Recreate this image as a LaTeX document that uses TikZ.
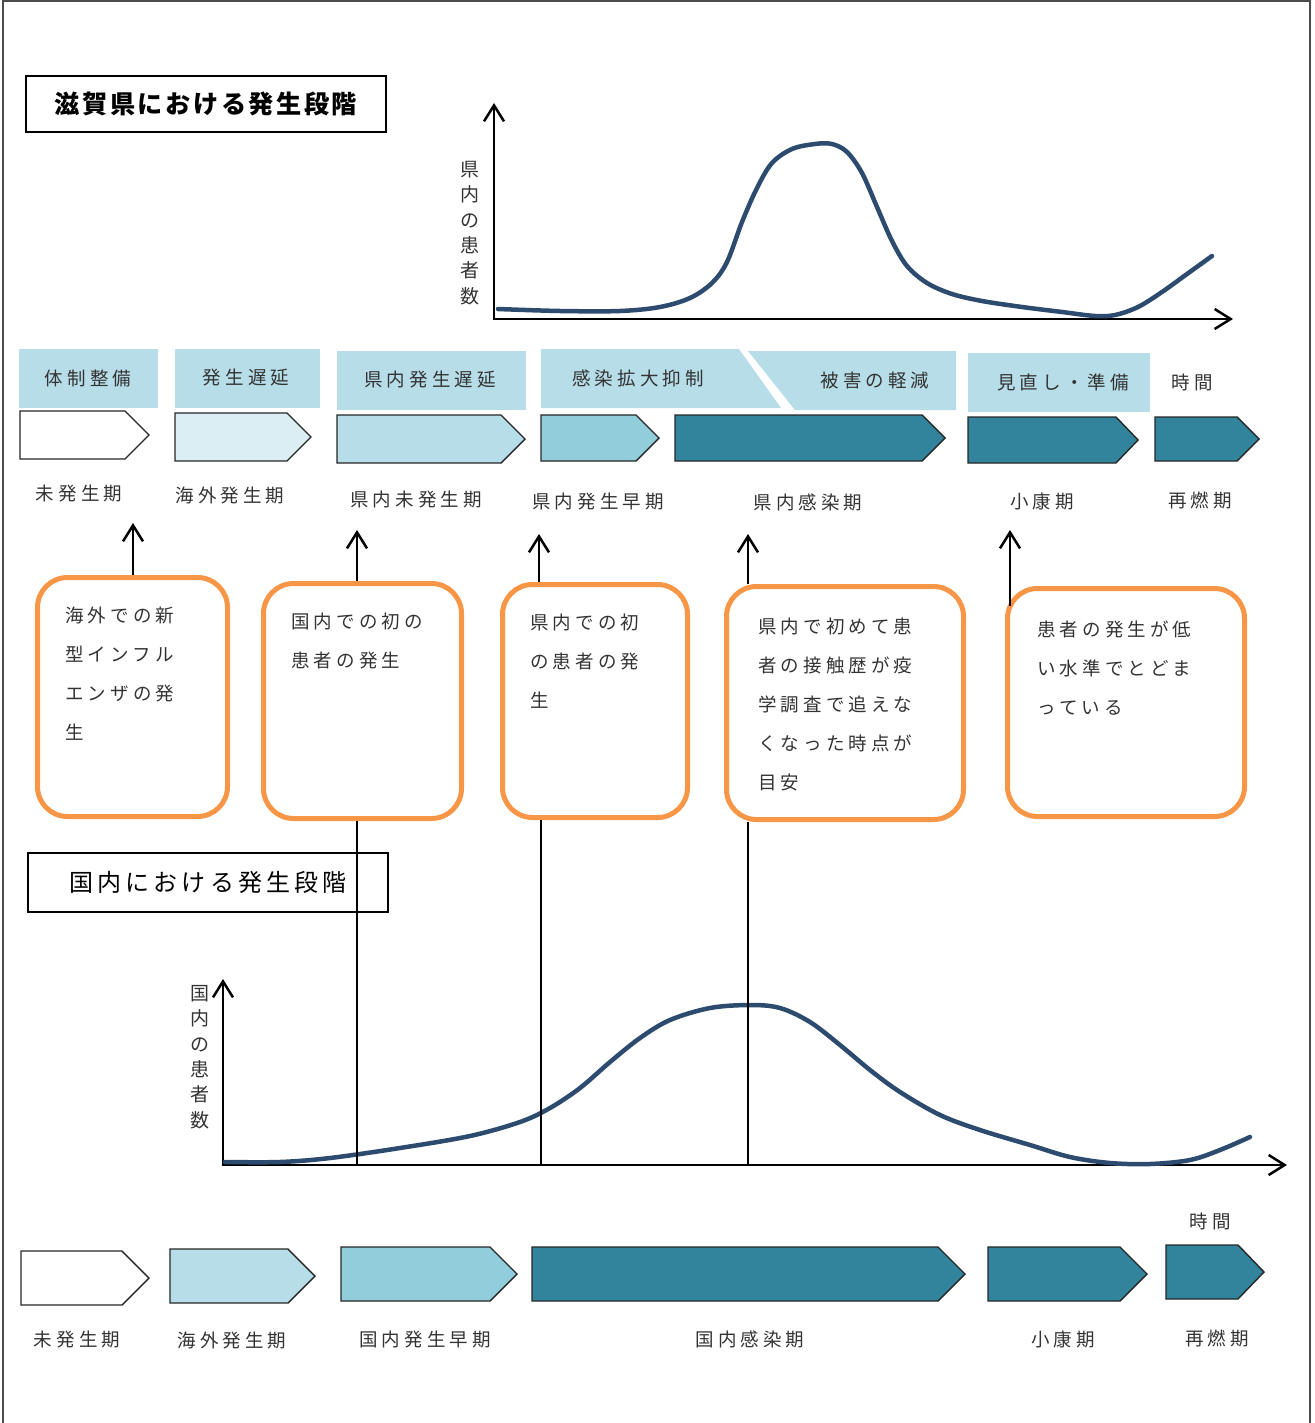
\documentclass[tikz,border=0pt]{standalone}
\usepackage{fontspec}
\setmainfont{Noto Sans CJK JP}
\newfontfamily\jpfont[LetterSpace=22]{Noto Sans CJK JP}
\newfontfamily\jphead[LetterSpace=10]{Noto Sans CJK JP}
\newfontfamily\jpheadwide[LetterSpace=17]{Noto Sans CJK JP}
\usetikzlibrary{positioning,arrows.meta}
\definecolor{curvenavy}{HTML}{2C4B6E}
\definecolor{phasepale}{HTML}{DAEEF3}
\definecolor{phaselight}{HTML}{B7DDE8}
\definecolor{phasemid}{HTML}{92CDDC}
\definecolor{phasedark}{HTML}{31849B}
\definecolor{boxorange}{HTML}{F79646}

\tikzset{
  lbl/.style={font=\jpfont\fontsize{9.25}{12}\selectfont, inner sep=0pt, text=black!80},
  boxtext/.style={font=\jpfont\fontsize{9.25}{19.5}\selectfont, inner sep=0pt, align=left, text=black!80},
  ylbl/.style={font=\fontsize{9.5}{12.7}\selectfont, inner sep=0pt, align=center, text=black!80},
  titlebox/.style={draw, line width=1.25pt, minimum width=180pt, inner sep=0pt},
  obox/.style={draw=boxorange, line width=2.5pt, rounded corners=15pt},
  chev/.style={draw=black!85, line width=0.7pt},
  axis/.style={line width=1.25pt, {Straight Barb[length=8pt,width=10pt]}-{Straight Barb[length=8pt,width=10pt]}},
  uparrow/.style={line width=1.25pt, -{Straight Barb[length=8pt,width=10pt]}},
  drop/.style={line width=0.7pt},
  curve/.style={curvenavy, line width=2.25pt, line cap=round}
}

\begin{document}
\begin{tikzpicture}[x=0.5pt, y=-0.5pt]
  \useasboundingbox (0,0) rectangle (1314,1423);
  % frame
  \draw[line width=1pt, black!70] (3,1423) -- (3,1) -- (1310,1) -- (1310,1423);

  % ---- prefecture ----
  \node[titlebox, minimum height=28pt, font=\jphead\bfseries\fontsize{12.6}{14}\selectfont] (title1) at (206,104) {滋賀県における発生段階};

  \coordinate (o1) at (494,319);
  \coordinate (y1) at (494,103);
  \coordinate (x1) at (1233,319);
  \draw[axis] (y1) -- (o1) -- (x1);
  \node[ylbl] (ylab1) at (470,233) {県\\内\\の\\患\\者\\数};
  \draw[curve] plot[smooth, tension=0.55] coordinates {(498,309) (560,311) (620,311) (660,307) (690,298) (712,283) (727,262) (742,222) (757,188) (772,163) (792,149) (815,144) (832,144) (847,152) (862,173) (877,207) (892,241) (907,266) (927,283) (952,294) (982,301) (1022,307) (1062,312) (1095,316) (1115,315) (1138,307) (1162,292) (1187,274) (1212,256)};

  % headline bands
  \fill[phaselight] (19,349) rectangle (158,408);
  \fill[phaselight] (175,349) rectangle (320,408);
  \fill[phaselight] (337,351) rectangle (526,410);
  \fill[phaselight] (541,349) -- (739,349) -- (781,408) -- (541,408) -- cycle;
  \fill[phaselight] (748,351) -- (956,351) -- (956,410) -- (795,410) -- cycle;
  \fill[phaselight] (968,353) rectangle (1150,412);
  \node[lbl] (h1) at (88,378) {体制整備};
  \node[lbl] (h2) at (246,378) {発生遅延};
  \node[lbl] (h3) at (430,380) {県内発生遅延};
  \node[lbl] (h4) at (638,378) {感染拡大抑制};
  \node[lbl] (h5) at (875,380) {被害の軽減};
  \node[lbl] (h6) at (1063,382) {見直し・準備};
  \node[lbl] (time1) at (1192,382) {時間};

  % phase arrows
  \draw[chev, fill=white] (20,411) -- (125,411) -- (149,435) -- (125,459) -- (20,459) -- cycle;
  \draw[chev, fill=phasepale] (175,413) -- (287,413) -- (311,437) -- (287,461) -- (175,461) -- cycle;
  \draw[chev, fill=phaselight] (337,415) -- (501,415) -- (525,439) -- (501,463) -- (337,463) -- cycle;
  \draw[chev, fill=phasemid] (541,415) -- (636,415) -- (659,438) -- (636,461) -- (541,461) -- cycle;
  \draw[chev, fill=phasedark] (675,415) -- (922,415) -- (945,438) -- (922,461) -- (675,461) -- cycle;
  \draw[chev, fill=phasedark] (968,417) -- (1116,417) -- (1138,440) -- (1116,463) -- (968,463) -- cycle;
  \draw[chev, fill=phasedark] (1155,417) -- (1237,417) -- (1259,439) -- (1237,461) -- (1155,461) -- cycle;

  \node[lbl] (p1) at (79,494) {未発生期};
  \node[lbl] (p2) at (230,496) {海外発生期};
  \node[lbl] (p3) at (416,500) {県内未発生期};
  \node[lbl] (p4) at (598,502) {県内発生早期};
  \node[lbl] (p5) at (808,502) {県内感染期};
  \node[lbl] (p6) at (1042,502) {小康期};
  \node[lbl] (p7) at (1200,500) {再燃期};

  % events
  \node[obox, minimum width=95pt, minimum height=119.5pt] (box1) at (132.5,697) {};
  \node[obox, minimum width=99pt, minimum height=117.5pt] (box2) at (362.5,701) {};
  \node[obox, minimum width=92.5pt, minimum height=116.5pt] (box3) at (595,701) {};
  \node[obox, minimum width=118.5pt, minimum height=116.5pt] (box4) at (845,703) {};
  \node[obox, minimum width=118.5pt, minimum height=114pt] (box5) at (1126,702.5) {};

  \node[boxtext, below right=16pt and 15pt of box1.north west] (e1) {海外での新\\型インフル\\エンザの発\\生};
  \node[boxtext, below right=16pt and 15pt of box2.north west] (e2) {国内での初の\\患者の発生};
  \node[boxtext, below right=16pt and 15pt of box3.north west] (e3) {県内での初\\の患者の発\\生};
  \node[boxtext, below right=17pt and 17pt of box4.north west] (e4) {県内で初めて患\\者の接触歴が疫\\学調査で追えな\\くなった時点が\\目安};
  \node[boxtext, below right=17pt and 16pt of box5.north west] (e5) {患者の発生が低\\い水準でとどま\\っている};

  \coordinate (t1) at (133,523);
  \coordinate (t2) at (357,530);
  \coordinate (t3) at (539,534);
  \coordinate (t4) at (748,534);
  \coordinate (t5) at (1010,530);
  \coordinate (s5) at (1010,606);
  \draw[uparrow] (box1.north -| t1) -- (t1);
  \draw[uparrow] (box2.north -| t2) -- (t2);
  \draw[uparrow] (box3.north -| t3) -- (t3);
  \draw[uparrow] (box4.north -| t4) -- (t4);
  \draw[uparrow] (s5) -- (t5);

  % ---- country ----
  \node[titlebox, minimum height=29.5pt, font=\jpheadwide\fontsize{12}{14}\selectfont] (title2) at (208,882.5) {国内における発生段階};

  \coordinate (o2) at (223,1165);
  \coordinate (y2) at (223,979);
  \coordinate (x2) at (1287,1165);
  \draw[axis] (y2) -- (o2) -- (x2);
  \node[ylbl] (ylab2) at (200,1057) {国\\内\\の\\患\\者\\数};
  \draw[curve] plot[smooth, tension=0.55] coordinates {(225,1162) (280,1162) (330,1158) (400,1148) (470,1136) (520,1122) (550,1108) (580,1088) (610,1062) (640,1038) (670,1020) (710,1008) (750,1005) (780,1008) (810,1022) (840,1045) (870,1070) (900,1092) (940,1115) (980,1130) (1030,1145) (1070,1157) (1110,1163) (1150,1164) (1190,1160) (1220,1150) (1250,1137)};

  \coordinate (d2) at (357,1165);
  \coordinate (d3) at (541,1165);
  \coordinate (d4) at (748,1165);
  \draw[drop] (box2.south -| d2) -- (d2);
  \draw[drop] (box3.south -| d3) -- (d3);
  \draw[drop] (box4.south -| d4) -- (d4);

  \draw[chev, fill=white] (21,1251) -- (122,1251) -- (149,1278) -- (122,1305) -- (21,1305) -- cycle;
  \draw[chev, fill=phaselight] (170,1249) -- (288,1249) -- (315,1276) -- (288,1303) -- (170,1303) -- cycle;
  \draw[chev, fill=phasemid] (341,1247) -- (490,1247) -- (517,1274) -- (490,1301) -- (341,1301) -- cycle;
  \draw[chev, fill=phasedark] (532,1247) -- (938,1247) -- (965,1274) -- (938,1301) -- (532,1301) -- cycle;
  \draw[chev, fill=phasedark] (988,1247) -- (1120,1247) -- (1147,1274) -- (1120,1301) -- (988,1301) -- cycle;
  \draw[chev, fill=phasedark] (1166,1245) -- (1238,1245) -- (1264,1272) -- (1238,1299) -- (1166,1299) -- cycle;
  \node[lbl] (time2) at (1210,1221) {時間};

  \node[lbl] (q1) at (77,1340) {未発生期};
  \node[lbl] (q2) at (232,1340) {海外発生期};
  \node[lbl] (q3) at (425,1340) {国内発生早期};
  \node[lbl] (q4) at (750,1339) {国内感染期};
  \node[lbl] (q5) at (1063,1339) {小康期};
  \node[lbl] (q6) at (1217,1338) {再燃期};
\end{tikzpicture}
\end{document}
